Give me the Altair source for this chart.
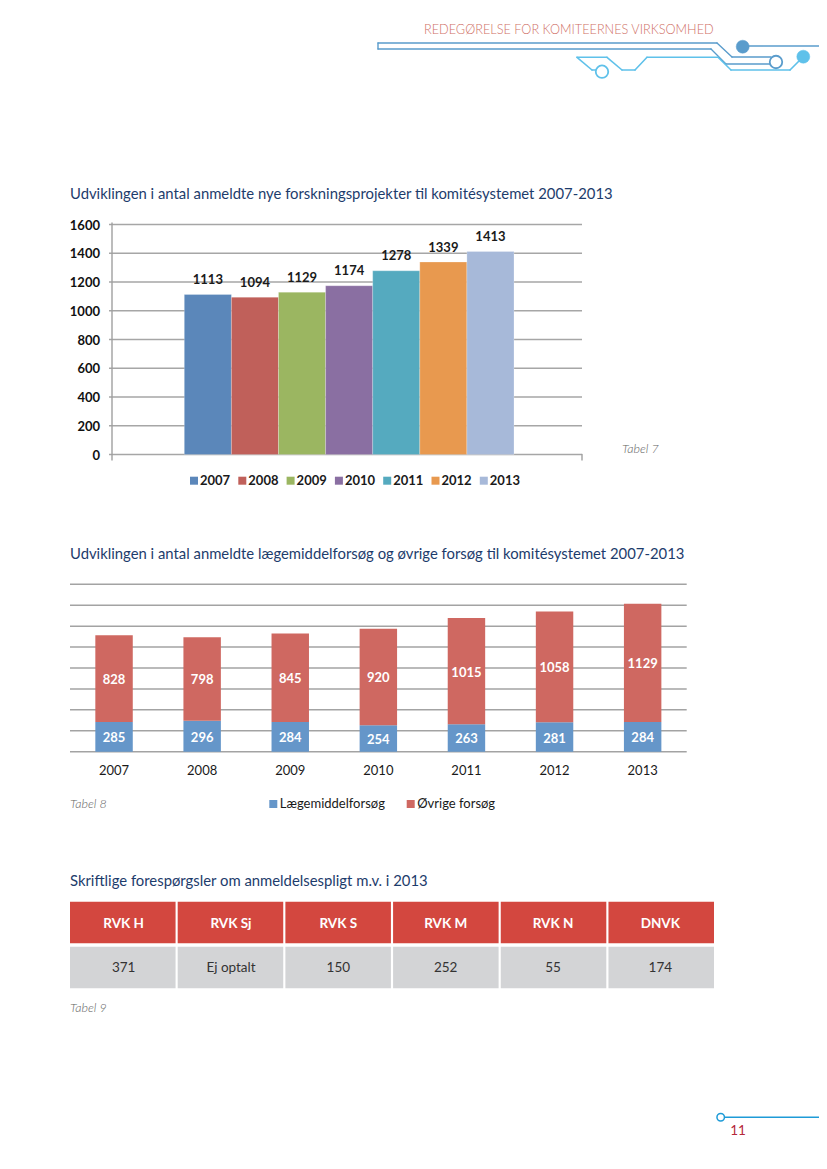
import altair as alt
import pandas as pd

# ---------------- data ----------------
years = ["2007", "2008", "2009", "2010", "2011", "2012", "2013"]
projects = [1113, 1094, 1129, 1174, 1278, 1339, 1413]
drug_trials = [285, 296, 284, 254, 263, 281, 284]
other_trials = [828, 798, 845, 920, 1015, 1058, 1129]
y_ticks = [0, 200, 400, 600, 800, 1000, 1200, 1400, 1600]
series_names = ["Lægemiddelforsøg", "Øvrige forsøg"]
committees = ["RVK H", "RVK Sj", "RVK S", "RVK M", "RVK N", "DNVK"]
inquiries = ["371", "Ej optalt", "150", "252", "55", "174"]

header_text = "REDEGØRELSE FOR KOMITEERNES VIRKSOMHED"
title1 = "Udviklingen i antal anmeldte nye forskningsprojekter til komitésystemet 2007-2013"
title2 = "Udviklingen i antal anmeldte lægemiddelforsøg og øvrige forsøg til komitésystemet 2007-2013"
title3 = "Skriftlige forespørgsler om anmeldelsespligt m.v. i 2013"
page_no = "11"

# ---------------- styles ----------------
colors1 = ["#5b87ba", "#c0605a", "#9bb661", "#8a6fa2", "#55aabf", "#e8994f", "#a7b9d9"]
colors2 = ["#6596c9", "#cf6861"]
TITLE_C = "#1d3c6c"
FONT = "Lato"
TITLE_SIZE = 14.85
W, H = 811, 1153


def X(v):
    return v - 8


def Y(v):
    return v - 8


one = pd.DataFrame({"k": [0]})


def txt(s, x, y, **kw):
    return alt.Chart(pd.DataFrame({"t": [s]})).mark_text(**kw).encode(
        text="t:N", x=alt.value(X(x)), y=alt.value(Y(y)))


def seg(x1, y1, x2, y2, color, w=1.6):
    return alt.Chart(one).mark_rule(color=color, strokeWidth=w, strokeCap="round").encode(
        x=alt.value(X(x1)), y=alt.value(Y(y1)), x2=alt.value(X(x2)), y2=alt.value(Y(y2)))


def dot(x, y, d, stroke, fill, w=1.8):
    return alt.Chart(one).mark_point(shape="circle", filled=True, fill=fill, stroke=stroke,
                                     strokeWidth=w, size=d * d, opacity=1).encode(
        x=alt.value(X(x)), y=alt.value(Y(y)))


def caption(s, x, y):
    return txt(s, x, y, font=FONT, fontStyle="italic", fontWeight=300, fontSize=12.5,
               color="#5f5f5f", align="left", baseline="middle")


layers = []

# ---------------- header decoration ----------------
MB = "#5a9ccc"
LB = "#5fc1ea"
layers.append(txt(header_text, 424, 34, font=FONT, fontSize=12.7, fontWeight=300, color="#cf6f66",
                  align="left", baseline="alphabetic"))
# double bar
layers += [
    seg(378, 43, 717, 43, MB, 1.4), seg(717, 43, 732, 57, MB, 1.4), seg(732, 57, 771, 57, MB, 1.4),
    seg(378, 49, 711, 49, MB, 1.4), seg(711, 49, 726, 64, MB, 1.4), seg(726, 64, 770, 64, MB, 1.4),
    seg(378, 43, 378, 49, MB, 1.4),
    seg(742, 46, 827, 46, MB, 1.6),
]
# light line
layers += [
    seg(577, 57.3, 607, 57.3, LB), seg(607, 57.3, 622, 70, LB), seg(622, 70, 635, 70, LB),
    seg(635, 70, 647, 57.3, LB), seg(647, 57.3, 718, 57.3, LB), seg(718, 57.3, 731, 70, LB),
    seg(731, 70, 790, 70, LB), seg(790, 70, 803, 57, LB),
    seg(577, 57.3, 592, 70, LB), seg(592, 70, 597, 70, LB),
]
layers += [
    dot(742.7, 46.7, 13, MB, MB, 0.5),
    dot(776, 62, 12.5, MB, "white", 1.8),
    dot(602, 71.7, 12.5, LB, "white", 1.8),
    dot(803.3, 56.7, 13, LB, LB, 0.5),
]

# ---------------- chart 1 ----------------
layers.append(txt(title1, 70, 198.5, font=FONT, fontSize=TITLE_SIZE, color=TITLE_C,
                  align="left", baseline="alphabetic"))
df1 = pd.DataFrame({"year": years, "value": projects})
dft = pd.DataFrame({"tick": y_ticks})
ys1 = alt.Scale(domain=[0, 1600], range=[Y(454.5), Y(224.5)], nice=False, zero=True)
xs1 = alt.Scale(domain=years, range=[X(184.3), X(514)], paddingInner=0, paddingOuter=0)
layers.append(alt.Chart(dft).mark_rule(color="#a6a6a6", strokeWidth=1.4).encode(
    y=alt.Y("tick:Q", scale=ys1, axis=None), x=alt.value(X(109)), x2=alt.value(X(582))))
layers.append(seg(112, 223, 112, 460, "#a0a0a0", 1.4))
layers.append(seg(582, 454.5, 582, 460, "#a0a0a0", 1.4))
layers.append(seg(349, 450.5, 349, 454.5, "#a0a0a0", 1.2))
layers.append(alt.Chart(dft).mark_text(align="right", baseline="middle", dy=1, font=FONT,
                                       fontWeight="bold", fontSize=13, color="#111111").encode(
    y=alt.Y("tick:Q", scale=ys1, axis=None), x=alt.value(X(100)),
    text=alt.Text("tick:Q", format="d")))
col1 = alt.Color("year:N", scale=alt.Scale(domain=years, range=colors1), legend=None)
layers.append(alt.Chart(df1).mark_bar(stroke="white", strokeWidth=0.4, strokeOpacity=0.6).encode(
    x=alt.X("year:N", scale=xs1, axis=None, sort=years),
    y=alt.Y("value:Q", scale=ys1, axis=None), color=col1))
layers.append(alt.Chart(df1).mark_text(baseline="middle", dy=-14.5, font=FONT, fontWeight="bold",
                                       fontSize=13, color="#1a1a1a").encode(
    x=alt.X("year:N", scale=xs1, axis=None, sort=years),
    y=alt.Y("value:Q", scale=ys1, axis=None), text=alt.Text("value:Q", format="d")))
# legend 1
lx1 = alt.X("year:N", scale=alt.Scale(type="point", domain=years, range=[X(194), X(483.8)], padding=0),
            axis=None, sort=years)
layers.append(alt.Chart(df1).mark_square(size=64, opacity=1).encode(
    x=lx1, y=alt.value(Y(480.7)), color=col1))
layers.append(alt.Chart(df1).mark_text(align="left", baseline="middle", dx=6, font=FONT,
                                       fontWeight="bold", fontSize=13, color="#1a1a1a").encode(
    x=lx1, y=alt.value(Y(481)), text="year:N"))
layers.append(caption("Tabel 7", 622, 449))

# ---------------- chart 2 ----------------
layers.append(txt(title2, 70, 558.5, font=FONT, fontSize=TITLE_SIZE, color=TITLE_C,
                  align="left", baseline="alphabetic"))
df2 = pd.DataFrame({
    "year": years * 2,
    "series": [series_names[0]] * len(years) + [series_names[1]] * len(years),
    "value": drug_trials + other_trials,
    "order": [0] * len(years) + [1] * len(years),
})
ys2 = alt.Scale(domain=[0, 1600], range=[Y(751.7), Y(584.3)], nice=False, zero=True)
xs2 = alt.Scale(domain=years, range=[X(70), X(686.7)], paddingInner=0.575, paddingOuter=0.2875)
layers.append(alt.Chart(dft).mark_rule(color="#a3a3a3", strokeWidth=1.5).encode(
    y=alt.Y("tick:Q", scale=ys2, axis=None), x=alt.value(X(70)), x2=alt.value(X(686.7))))
base2 = alt.Chart(df2).transform_stack(
    stack="value", groupby=["year"], as_=["v0", "v1"],
    sort=[alt.SortField("order", order="ascending")]
).transform_calculate(mid="(datum.v0 + datum.v1) / 2")
col2 = alt.Color("series:N", scale=alt.Scale(domain=series_names, range=colors2), legend=None)
layers.append(base2.mark_bar().encode(
    x=alt.X("year:N", scale=xs2, axis=None, sort=years),
    y=alt.Y("v0:Q", scale=ys2, axis=None), y2="v1:Q", color=col2))
layers.append(base2.mark_text(baseline="middle", dy=1.5, font=FONT, fontWeight="bold",
                              fontSize=13, color="white").encode(
    x=alt.X("year:N", scale=xs2, axis=None, sort=years),
    y=alt.Y("mid:Q", scale=ys2, axis=None), text=alt.Text("value:Q", format="d")))
layers.append(alt.Chart(df1).mark_text(baseline="middle", font=FONT, fontSize=13,
                                       color="#1a1a1a").encode(
    x=alt.X("year:N", scale=xs2, axis=None, sort=years), y=alt.value(Y(771)), text="year:N"))
layers.append(caption("Tabel 8", 70, 804))
dfl2 = pd.DataFrame({"series": series_names})
lx2 = alt.X("series:N", scale=alt.Scale(type="point", domain=series_names,
                                        range=[X(273.3), X(410.7)], padding=0),
            axis=None, sort=series_names)
layers.append(alt.Chart(dfl2).mark_square(size=64, opacity=1).encode(
    x=lx2, y=alt.value(Y(804)), color=col2))
layers.append(alt.Chart(dfl2).mark_text(align="left", baseline="middle", dx=6.5, font=FONT,
                                        fontSize=13, color="#1a1a1a").encode(
    x=lx2, y=alt.value(Y(804)), text="series:N"))

# ---------------- table 9 ----------------
layers.append(txt(title3, 70, 885.5, font=FONT, fontSize=TITLE_SIZE, color=TITLE_C,
                  align="left", baseline="alphabetic"))
df3 = pd.DataFrame({"committee": committees, "value": inquiries})
xs3 = alt.X("committee:N", sort=committees, axis=None,
            scale=alt.Scale(domain=committees, range=[X(70), X(714)], paddingInner=0.02, paddingOuter=0))
layers.append(alt.Chart(df3).mark_bar(color="#d3473f").encode(
    x=xs3, y=alt.value(Y(901.7)), y2=alt.value(Y(943.3))))
layers.append(alt.Chart(df3).mark_bar(color="#d3d4d6").encode(
    x=xs3, y=alt.value(Y(946.7)), y2=alt.value(Y(988.3))))
layers.append(alt.Chart(df3).mark_text(baseline="middle", font=FONT, fontWeight="bold",
                                       fontSize=13.5, color="white").encode(
    x=xs3, y=alt.value(Y(924)), text="committee:N"))
layers.append(alt.Chart(df3).mark_text(baseline="middle", font=FONT, fontSize=13.5,
                                       color="#333333").encode(
    x=xs3, y=alt.value(Y(967.7)), text="value:N"))
layers.append(caption("Tabel 9", 70, 1008.3))

# ---------------- footer ----------------
FB = "#1e9bd7"
layers.append(seg(724, 1117.3, 827, 1117.3, FB, 1.6))
layers.append(dot(720.7, 1117.3, 7.5, FB, "white", 1.5))
layers.append(txt(page_no, 738, 1131, font=FONT, fontSize=13.5, color="#b5283b",
                  align="center", baseline="middle"))

chart = alt.layer(*layers).resolve_scale(
    x="independent", y="independent", color="independent"
).properties(
    width=W, height=H, padding=0, autosize=alt.AutoSizeParams(type="none"),
    background="white"
).configure_view(stroke=None)

chart.save("out.html", embed_options={"renderer": "svg", "actions": False})
